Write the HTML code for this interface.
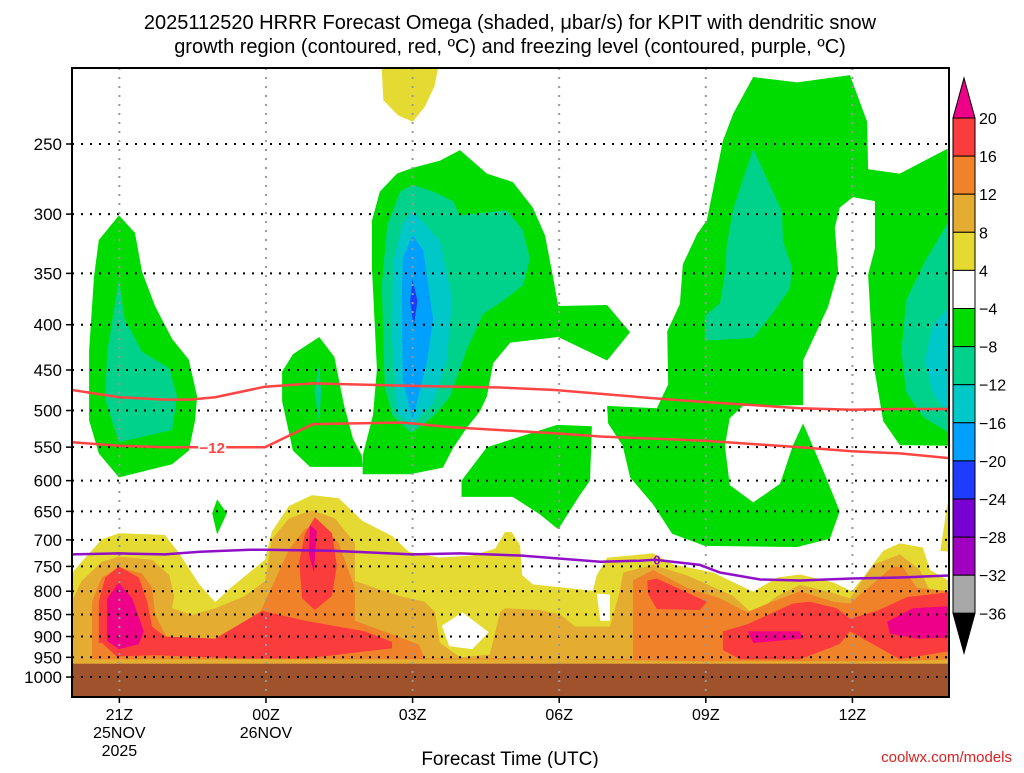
<!DOCTYPE html>
<html><head><meta charset="utf-8"><style>
html,body{margin:0;padding:0;background:#fff;}
body{width:1024px;height:768px;overflow:hidden;font-family:"Liberation Sans",sans-serif;}
text{font-family:"Liberation Sans",sans-serif;}
</style></head><body>
<svg id="chart" width="1024" height="768" viewBox="0 0 1024 768" xmlns="http://www.w3.org/2000/svg">
<defs><clipPath id="plotclip"><rect x="72" y="68" width="877" height="629"/></clipPath></defs>
<text x="510" y="29" text-anchor="middle" font-size="20" fill="#000">2025112520 HRRR Forecast Omega (shaded, μbar/s) for KPIT with dendritic snow</text>
<text x="510" y="53" text-anchor="middle" font-size="20" fill="#000">growth region (contoured, red, ºC) and freezing level (contoured, purple, ºC)</text>
<g id="fills" clip-path="url(#plotclip)"></g>
<g id="grid" clip-path="url(#plotclip)"></g>
<g id="lines" clip-path="url(#plotclip)"></g>
<rect x="72" y="68" width="877" height="629" fill="none" stroke="#000" stroke-width="2"/>
<g id="axes"></g>
<g id="cbar"></g>
<text x="510" y="765" text-anchor="middle" font-size="19" fill="#000">Forecast Time (UTC)</text>
<text x="1012" y="762" text-anchor="end" font-size="15" fill="#e02020" font-family="Liberation Mono">coolwx.com/models</text>
</svg>
<script>
// ---- data (hour since 20Z, pressure hPa) ----
const pressureTicks=[250,300,350,400,450,500,550,600,650,700,750,800,850,900,950,1000];
const timeTickHours=[1,4,7,10,13,16];
const timeTickLabels=[["21Z","25NOV","2025"],["00Z","26NOV"],["03Z"],["06Z"],["09Z"],["12Z"]];
const levelColors=["#ee0088","#fa3c3c","#f0822a","#e4ac30","#e4da32","#ffffff","#00dc00","#00d28c","#00c8c8","#00a0ff","#1e3cff","#7800d2","#a000c0","#a8a8a8"];
const levelLabels=["20","16","12","8","4","−4","−8","−12","−16","−20","−24","−28","−32","−36"];
const surfacePressure=966;
const yellowEnv=[[0.03,970],[0.03,763],[0.23,741],[0.64,699],[0.99,688],[1.93,691],[2.22,724],[2.63,785],[2.96,823],[3.30,791],[3.98,737],[4.12,685],[4.47,641],[4.94,623],[5.49,628],[5.97,666],[6.58,693],[6.92,722],[7.54,733],[8.22,729],[8.69,716],[8.89,686],[9.03,686],[9.07,692],[9.20,710],[9.24,767],[9.46,786],[10.69,799],[10.77,767],[10.98,733],[11.92,725],[12.33,746],[13.15,762],[13.97,801],[14.46,772],[14.93,766],[15.61,782],[15.99,800],[16.30,762],[16.63,720],[16.97,706],[17.44,714],[17.59,757],[17.98,779],[17.98,970]];
const yellowSliver=[[17.8,720],[17.95,633],[17.98,722]];
const yellowTop=[[6.35,195],[6.4,223],[6.7,232],[7.0,236],[7.25,227],[7.45,215],[7.6,195]];
const whiteHole1=[[7.6,875],[8.02,845],[8.56,890],[8.22,930],[7.75,923]];
const whiteHole2=[[10.77,805],[11.04,807],[11.04,864],[10.84,864]];
const oyRegion=[[0.03,970],[0.03,820],[0.23,779],[0.64,741],[0.99,731],[1.67,737],[2.02,767],[2.12,810],[2.08,836],[2.49,851],[2.96,836],[3.57,810],[3.98,779],[4.12,699],[4.47,662],[4.94,648],[5.41,662],[5.82,706],[5.82,779],[6.72,810],[7.25,822],[7.46,845],[7.56,915],[7.97,950],[8.58,943],[8.79,845],[8.89,836],[9.61,840],[10.02,850],[10.33,877],[11.04,877],[11.24,800],[11.31,762],[11.92,747],[12.62,768],[13.56,810],[13.97,850],[14.46,810],[14.93,787],[15.61,804],[15.95,815],[16.42,747],[16.97,727],[17.38,757],[17.59,800],[17.98,806],[17.98,970]];
const orangeRegion=[[0.44,955],[0.44,822],[0.64,772],[0.99,752],[1.46,764],[1.67,793],[1.73,850],[2.02,913],[2.96,913],[3.71,889],[3.98,822],[4.47,718],[4.80,680],[5.15,674],[5.49,706],[5.82,794],[5.82,864],[6.58,895],[7.13,919],[7.25,953],[8.79,953],[10.08,955],[11.51,955],[11.51,778],[11.92,757],[12.62,793],[13.29,815],[13.84,845],[14.36,822],[14.93,800],[15.61,822],[15.95,826],[16.83,750],[17.04,752],[17.32,793],[17.98,800],[17.98,955],[16.97,960],[12.98,960],[10.08,955]];
const redRegion=[[0.58,915],[0.58,822],[0.71,772],[0.99,750],[1.40,772],[1.57,822],[1.67,877],[1.93,900],[2.96,905],[3.92,842],[4.80,864],[6.03,888],[6.58,913],[6.58,928],[4.80,953],[3.45,953],[1.73,945],[0.95,948],[0.64,915]];
const redCenter=[[5.0,660],[5.35,688],[5.45,748],[5.35,810],[5.0,840],[4.74,815],[4.68,740],[4.80,688]];
const redRight1=[[11.80,778],[12.00,774],[13.02,822],[12.88,840],[12.00,838],[11.82,806]];
const redRight2=[[13.35,888],[13.84,872],[14.78,826],[15.13,822],[15.68,836],[15.95,859],[16.50,842],[17.12,812],[17.98,802],[17.98,935],[16.97,955],[15.95,888],[15.74,918],[14.93,955],[13.70,955],[13.35,932]];
const magLeft=[[0.75,815],[0.99,783],[1.26,815],[1.50,888],[1.40,918],[0.99,930],[0.75,910]];
const magCenter=[[4.90,674],[5.04,684],[4.98,762],[4.88,727]];
const magRight1=[[13.86,888],[14.93,888],[14.98,905],[13.97,915]];
const magRight2=[[16.71,866],[17.24,836],[17.98,832],[17.98,903],[17.32,905],[16.77,893]];
const greenLeft=[[0.99,301],[1.32,315],[1.46,348],[1.73,381],[2.08,415],[2.42,438],[2.59,482],[2.55,513],[2.42,555],[2.08,575],[0.99,595],[0.58,559],[0.38,513],[0.38,428],[0.48,353],[0.58,321]];
const tealLeft=[[0.99,356],[1.11,394],[1.46,429],[2.02,448],[2.18,482],[2.08,526],[0.99,543],[0.71,486],[0.75,429]];
const greenDiamond=[[3.0,630],[3.2,653],[3.0,690],[2.9,653]];
const greenMid=[[5.09,413],[5.4,435],[5.5,464],[5.6,494],[5.78,538],[5.96,562],[5.98,579],[4.9,579],[4.55,555],[4.33,488],[4.33,452],[4.55,432]];
const tealMid=[[5.09,444],[5.13,476],[5.09,516],[4.99,476]];
const greenCentral=[[7.97,254],[8.52,270],[9.05,276],[9.46,295],[9.71,317],[9.87,352],[9.98,381],[10.98,380],[11.45,408],[10.98,439],[9.98,413],[9.0,419],[8.65,442],[8.52,482],[8.38,501],[8.11,523],[7.83,551],[7.62,580],[6.95,590],[5.98,590],[5.98,562],[6.19,506],[6.27,449],[6.17,346],[6.17,305],[6.33,283],[6.68,270],[7.0,266],[7.56,261]];
const tealCentral=[[7.0,278],[7.43,283],[7.83,290],[7.97,301],[8.93,297],[9.26,313],[9.4,337],[9.26,361],[8.79,378],[8.44,389],[8.11,427],[7.76,483],[7.42,508],[6.98,530],[6.6,508],[6.43,471],[6.37,361],[6.48,309],[6.74,283]];
const cyanCentral=[[7.0,297],[7.56,322],[7.81,374],[7.7,439],[7.42,491],[6.98,520],[6.68,503],[6.58,413],[6.6,341],[6.8,308]];
const blueCentral=[[7.0,317],[7.22,330],[7.42,394],[7.3,439],[7.0,512],[6.8,462],[6.78,376],[6.8,336]];
const dblueCentral=[[7.0,356],[7.1,376],[7.02,402],[6.95,376]];
const greenLower=[[8.0,600],[8.52,550],[9.96,519],[10.67,521],[10.63,600],[10.4,626],[9.98,681],[9.6,655],[9.05,626],[8.0,626]];
const greenRight=[[13.56,231],[13.97,210],[14.87,213],[15.95,209],[16.30,236],[16.32,267],[16.97,270],[17.95,253],[17.98,548],[16.97,547],[16.63,514],[16.42,439],[16.32,351],[16.46,328],[16.46,290],[16.01,287],[15.74,295],[15.64,311],[15.71,348],[15.50,382],[15.27,407],[14.99,439],[14.99,493],[13.76,494],[13.49,510],[13.39,548],[13.49,607],[13.97,635],[14.52,605],[14.78,548],[14.99,517],[15.40,584],[15.74,650],[15.54,698],[14.87,713],[12.98,711],[12.31,689],[11.92,638],[11.45,595],[11.30,548],[11.0,517],[10.98,494],[12.0,497],[12.23,467],[12.21,407],[12.47,379],[12.53,342],[12.82,316],[13.02,305],[13.35,248]];
const tealRight=[[13.97,253],[14.56,298],[14.58,322],[14.77,345],[14.72,364],[14.37,388],[13.97,414],[12.98,417],[12.98,391],[13.29,378],[13.39,350],[13.43,325],[13.56,296]];
const tealEdge=[[17.98,305],[17.5,338],[17.1,375],[17.0,429],[17.1,477],[17.45,509],[17.98,530]];
const cyanEdge=[[17.98,382],[17.65,400],[17.48,439],[17.65,479],[17.98,506]];
const lineHoursA=[0.03,1,1.93,2.44,2.96,3.98,4.96,6.99,8.79,9.91,12.06,12.98,14.93,15.99,16.97,17.98];
const lineUpperP=[474,483,486,486,483,470,466,469,471,474,485,489,497,499,498,498];
const lineHoursB=[0.03,1,1.93,2.65,3.98,4.96,6.74,6.99,7.76,10.02,10.84,12.98,14.93,15.99,16.97,17.98];
const lineM12P=[543,548,550,550,550,518,516,517,522,531,535,541,550,556,559,566];
const freezeHours=[0.03,1,1.93,2.65,3.67,3.98,5.33,6.99,7.97,9.2,10.02,10.84,11.65,11.96,12.88,13.29,14.11,14.93,15.99,16.97,17.98];
const freezeP=[727,725,727,722,718,718,720,727,725,729,735,741,739,737,747,762,776,778,774,772,768];

const X=h=>70.5+h*48.87;
const Y=p=>144+384.5*Math.log(p/250);
const NS='http://www.w3.org/2000/svg';
function mk(tag,attrs,parent){const e=document.createElementNS(NS,tag);for(const k in attrs)e.setAttribute(k,attrs[k]);parent.appendChild(e);return e;}
const fills=document.getElementById('fills');
function poly(pts,color,name){
  const e=mk('polygon',{points:pts.map(q=>X(q[0]).toFixed(1)+','+Y(q[1]).toFixed(1)).join(' '),fill:color},fills);
  
  
}
const C=levelColors;
poly(yellowEnv,C[4],'omega-4-8');
poly(yellowSliver,C[4],'omega-4-8');
poly(yellowTop,C[4],'omega-4-8');
poly(oyRegion,C[3],'omega-8-12');
poly(whiteHole1,'#ffffff','omega-neutral');
poly(whiteHole2,'#ffffff','omega-neutral');
poly(orangeRegion,C[2],'omega-12-16');
poly(redRegion,C[1],'omega-16-20');
poly(redCenter,C[1],'omega-16-20');
poly(redRight1,C[1],'omega-16-20');
poly(redRight2,C[1],'omega-16-20');
poly(magLeft,C[0],'omega-above-20');
poly(magCenter,C[0],'omega-above-20');
poly(magRight1,C[0],'omega-above-20');
poly(magRight2,C[0],'omega-above-20');
poly(greenLeft,C[6],'omega-minus4-minus8');
poly(tealLeft,C[7],'omega-minus8-minus12');
poly(greenDiamond,C[6],'omega-minus4-minus8');
poly(greenMid,C[6],'omega-minus4-minus8');
poly(tealMid,C[7],'omega-minus8-minus12');
poly(greenCentral,C[6],'omega-minus4-minus8');
poly(tealCentral,C[7],'omega-minus8-minus12');
poly(cyanCentral,C[8],'omega-minus12-minus16');
poly(blueCentral,C[9],'omega-minus16-minus20');
poly(dblueCentral,C[10],'omega-minus20-minus24');
poly(greenLower,C[6],'omega-minus4-minus8');
poly(greenRight,C[6],'omega-minus4-minus8');
poly(tealRight,C[7],'omega-minus8-minus12');
poly(tealEdge,C[7],'omega-minus8-minus12');
poly(cyanEdge,C[8],'omega-minus12-minus16');
const gnd=mk('rect',{x:72,y:Y(surfacePressure),width:877,height:697-Y(surfacePressure),fill:'#a0522d'},fills);



const grid=document.getElementById('grid');
pressureTicks.forEach(p=>{
  const l=mk('line',{x1:72,x2:949,y1:Y(p),y2:Y(p),stroke:'#000','stroke-width':2,'stroke-dasharray':'2 7'},grid);
  
  
});
timeTickHours.forEach(h=>{
  const l=mk('line',{x1:X(h),x2:X(h),y1:68,y2:697,stroke:'#999','stroke-width':2,'stroke-dasharray':'2 7'},grid);
  
  
});

const lines=document.getElementById('lines');
function pl(hs,ps,color,name){
  const e=mk('polyline',{points:hs.map((h,i)=>X(h).toFixed(1)+','+Y(ps[i]).toFixed(1)).join(' '),fill:'none',stroke:color,'stroke-width':2.5},lines);
  
  
}
pl(lineHoursA,lineUpperP,'#f44','dgz-upper-contour');
pl(lineHoursB,lineM12P,'#f44','minus12-contour');
pl(freezeHours,freezeP,'#9010c8','freezing-level-contour');
let lb=mk('rect',{x:X(2.9)-14,y:Y(550)-8,width:28,height:16,fill:'#fff'},lines);


lb=mk('text',{x:X(2.9),y:Y(550)+6,'text-anchor':'middle','font-size':15,'font-weight':'bold',fill:'#f44'},lines);
lb.textContent='−12';


lb=mk('text',{x:X(12.0),y:Y(737)+5,'text-anchor':'middle','font-size':13,'font-weight':'bold',fill:'#9010c8'},lines);
lb.textContent='0';



const axes=document.getElementById('axes');
pressureTicks.forEach(p=>{
  const t=mk('text',{x:62,y:Y(p)+6,'text-anchor':'end','font-size':17,fill:'#000'},axes);
  t.textContent=String(p);
  
  
  const k=mk('line',{x1:66,x2:72,y1:Y(p),y2:Y(p),stroke:'#000','stroke-width':1.5},axes);
  
  
});
timeTickHours.forEach((h,i)=>{
  const k=mk('line',{x1:X(h),x2:X(h),y1:697,y2:703,stroke:'#000','stroke-width':1.5},axes);
  
  
  timeTickLabels[i].forEach((s,j)=>{
    const t=mk('text',{x:X(h),y:720+j*18,'text-anchor':'middle','font-size':16,fill:'#000'},axes);
    t.textContent=s;
    
    
  });
});

const cb=document.getElementById('cbar');
const cbTop=118,cbStep=38.1,cbX=953,cbW=22;
let tri=mk('polygon',{points:`${cbX},${cbTop} ${cbX+cbW},${cbTop} ${cbX+cbW/2},${cbTop-40}`,fill:levelColors[0],stroke:'#000','stroke-width':1},cb);


for(let i=1;i<levelColors.length;i++){
  const r=mk('rect',{x:cbX,y:cbTop+(i-1)*cbStep,width:cbW,height:cbStep,fill:levelColors[i],stroke:'#000','stroke-width':1},cb);
  
  
}
const cbBot=cbTop+(levelColors.length-1)*cbStep;
tri=mk('polygon',{points:`${cbX},${cbBot} ${cbX+cbW},${cbBot} ${cbX+cbW/2},${cbBot+40}`,fill:'#000',stroke:'#000','stroke-width':1},cb);


levelLabels.forEach((s,i)=>{
  const t=mk('text',{x:979,y:cbTop+i*cbStep+6,'font-size':16,fill:'#000'},cb);
  t.textContent=s;
  
  
});
</script>
</body></html>
